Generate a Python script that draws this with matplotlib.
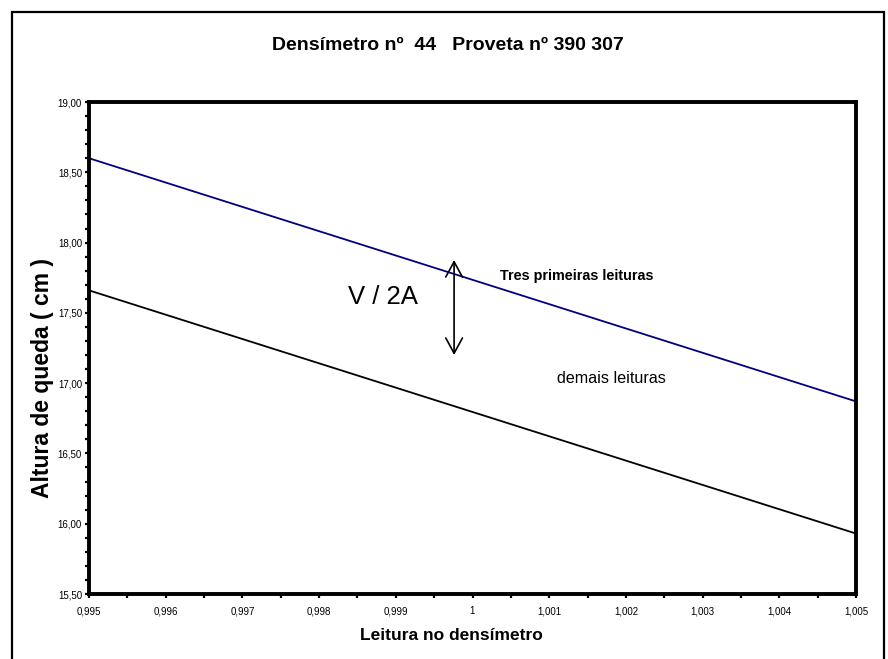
import matplotlib
matplotlib.use("Agg")
import matplotlib.pyplot as plt
from matplotlib.patches import Rectangle
from matplotlib.ticker import MultipleLocator, FuncFormatter

plt.rcParams['font.family'] = ['Liberation Sans', 'DejaVu Sans']

# Densímetro readings (x) and fall height (cm) at the ends of each line
leitura = [0.995, 1.005]
altura_tres_primeiras = [18.60, 16.87]
altura_demais = [17.66, 15.93]

x_ticks = [0.995, 0.996, 0.997, 0.998, 0.999, 1.000, 1.001, 1.002, 1.003, 1.004, 1.005]
y_ticks = [15.50, 16.00, 16.50, 17.00, 17.50, 18.00, 18.50, 19.00]

# V/2A correction arrow
seta_x = 0.99976
seta_y = [17.876, 17.20]

W, H = 888, 659
fig = plt.figure(figsize=(W / 100, H / 100), dpi=100)
fig.patch.set_facecolor('white')

# outer frame
fig.patches.append(Rectangle((12 / W, -0.05), (884 - 12) / W, (H - 12) / H + 0.05,
                             transform=fig.transFigure, fill=False,
                             edgecolor='black', linewidth=1.6, zorder=0))

ax = fig.add_axes([89 / W, 1 - 594 / H, (856 - 89) / W, (594 - 102) / H])

ax.plot(leitura, altura_tres_primeiras, color='#000080', linewidth=1.3)
ax.plot(leitura, altura_demais, color='black', linewidth=1.3)

ax.set_xlim(x_ticks[0], x_ticks[-1])
ax.set_ylim(y_ticks[0], y_ticks[-1])

ax.set_xticks(x_ticks)
ax.set_yticks(y_ticks)
ax.xaxis.set_minor_locator(MultipleLocator(0.0005))
ax.yaxis.set_minor_locator(MultipleLocator(0.1))
ax.xaxis.set_major_formatter(FuncFormatter(lambda v, p: f"{round(v, 3):g}".replace('.', ',')))
ax.yaxis.set_major_formatter(FuncFormatter(lambda v, p: f"{v:.2f}".replace('.', ',')))

for side in ax.spines.values():
    side.set_linewidth(2.8)
ax.tick_params(which='both', direction='out', length=3, width=1.6, labelsize=7)
ax.tick_params(axis='y', pad=2)
ax.tick_params(axis='x', pad=6)

# axis titles
fig.text(451 / W, 1 - 636 / H, 'Leitura no densímetro', fontsize=12.5,
         fontweight='bold', ha='center', va='center')
fig.text(43 / W, 1 - 378 / H, 'Altura de queda ( cm )', fontsize=16.5,
         fontweight='bold', ha='center', va='center', rotation=90)

fig.text(448 / W, 1 - 45 / H, 'Densímetro nº  44   Proveta nº 390 307',
         ha='center', va='center', fontsize=14, fontweight='bold')

ax.annotate('', xy=(seta_x, seta_y[0]), xytext=(seta_x, seta_y[1]),
            arrowprops=dict(arrowstyle='<->,head_length=1.1,head_width=0.6',
                            color='black', linewidth=1.2, shrinkA=0, shrinkB=0))

ax.text(0.998377, 17.613, 'V / 2A', fontsize=18.5, ha='left', va='center')
ax.text(1.000359, 17.765, 'Tres primeiras leituras', fontsize=10.4,
        fontweight='bold', ha='left', va='center')
ax.text(1.001102, 17.03, 'demais leituras', fontsize=11.6, ha='left', va='center')

fig.savefig('out.png', dpi=100, facecolor='white')
